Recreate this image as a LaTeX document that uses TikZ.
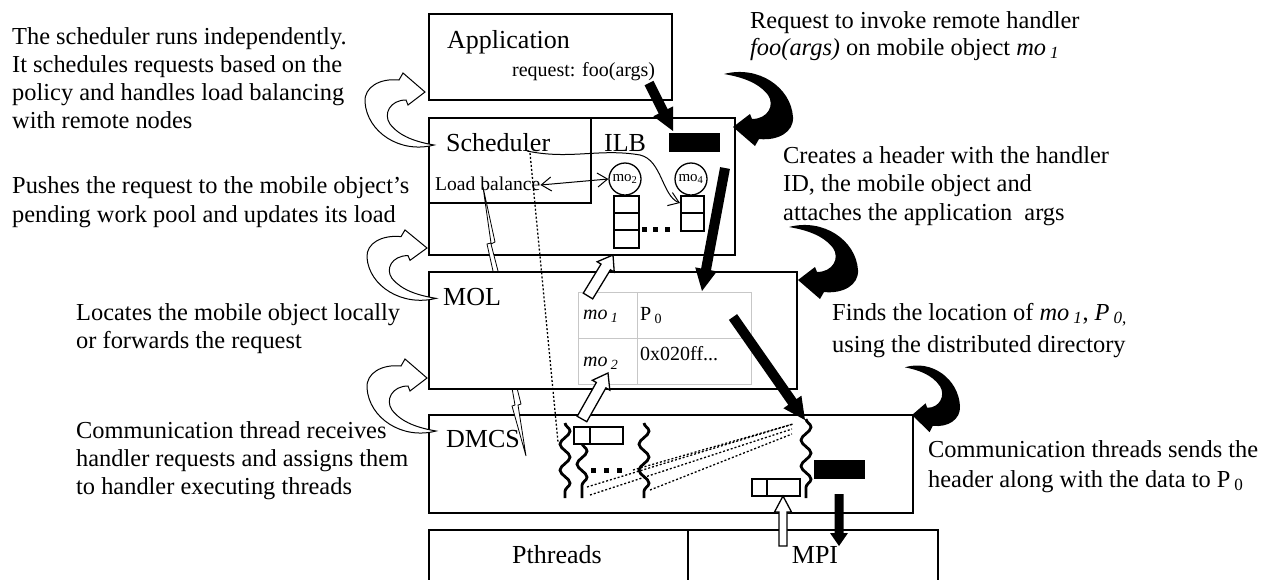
\documentclass[tikz,border=0pt]{standalone}
\usepackage{fontspec}
\setmainfont{Liberation Serif}
\usetikzlibrary{arrows.meta,calc,decorations.pathmorphing}

% block arrow: style, from, to, half shaft width, half head width, head length
\newcommand{\blockarrow}[6]{%
  \coordinate (ba-hb) at ($(#3)!#6!(#2)$);
  \path[#1] ($(#2)!#4!90:(#3)$) -- ($(ba-hb)!#4!-90:(#2)$) -- ($(ba-hb)!#5!-90:(#2)$)
    -- (#3) -- ($(ba-hb)!#5!90:(#2)$) -- ($(ba-hb)!#4!90:(#2)$) -- ($(#2)!#4!-90:(#3)$) -- cycle;
}

\tikzset{
  layer/.style={draw, line width=1.5pt, anchor=north west, inner sep=0pt, fill=white},
  note/.style={anchor=base west, align=left, inner sep=0pt, font=\fontsize{24.4}{28}\selectfont},
  boxlabel/.style={anchor=base west, inner sep=0pt, font=\fontsize{26}{30}\selectfont},
  small/.style={anchor=base west, inner sep=0pt, font=\fontsize{20}{24}\selectfont},
  cell/.style={draw, line width=1.5pt, anchor=north west, inner sep=0pt, fill=white},
  objcircle/.style={draw, circle, line width=1.3pt, minimum size=32pt, inner sep=0pt, font=\fontsize{15}{18}\selectfont},
  thread/.style={line width=2.8pt, decorate, decoration={snake, segment length=26pt, amplitude=5pt}},
  dots/.style={line width=1.3pt, dash pattern=on 2pt off 2pt},
  solidarrow/.style={fill=black},
  hollowarrow/.style={draw, fill=white, line width=1.3pt},
  tablegrid/.style={draw=black!22, line width=1pt},
  crescent/.pic={
    \path[pic actions] (0,0) -- (17,-13) -- (19,-8)
      .. controls (35,-8) and (42,-22) .. (35,-32)
      .. controls (25,-45) and (8,-50) .. (-9,-53)
      .. controls (25,-62) and (58,-40) .. (60,-10)
      .. controls (61,5) and (45,14) .. (26,12) -- (22,19) -- cycle;
  }
}

\begin{document}
\begin{tikzpicture}[x=1pt, y=-1pt]
\useasboundingbox (0,0) rectangle (1270,579);

% ---------- layers ----------
\node[layer, minimum width=243pt, minimum height=86pt] (app) at (428,13) {};
\node[layer, minimum width=306pt, minimum height=137pt] (ilb) at (428,117) {};
\node[layer, minimum width=162pt, minimum height=85pt] (sched) at (428,117) {};
\node[layer, minimum width=484pt, minimum height=98pt] (dmcs) at (428,414) {};
\node[layer, minimum width=259pt, minimum height=70pt] (pthreads) at (428,529) {};
\node[layer, minimum width=250pt, minimum height=70pt] (mpi) at (687,529) {};

% load-balancing path from the scheduler down to the communication layer
\path[draw, fill=white, line width=0.8pt] (483,187) -- (495,242) -- (491,244) -- (498,271)
  -- (517,388) -- (521,404) -- (518,405) -- (526,456) -- (512,406) -- (515,405)
  -- (512,388) -- (493,271) -- (487,244) -- (491,243) -- cycle;

\node[layer, minimum width=368pt, minimum height=117pt] (mol) at (428,271) {};

% ---------- layer titles ----------
\node[boxlabel] (tapp) at (447,48) {Application};
\node[small] (treq) at (512,76) {request: foo(args)};
\node[boxlabel] (tsched) at (446,151) {Scheduler};
\node[boxlabel] (tilb) at (604,151) {ILB};
\node[small, font=\fontsize{19.6}{24}\selectfont] (tlb) at (435,190) {Load balance};
\node[boxlabel] (tmol) at (443,305) {MOL};
\node[boxlabel] (tdmcs) at (446,447) {DMCS};
\node[boxlabel, anchor=base] (tpth) at (557,563) {Pthreads};
\node[boxlabel, anchor=base] (tmpi) at (815,563) {MPI};

% ---------- ILB contents ----------
\node[draw, fill=black, anchor=north west, minimum width=50pt, minimum height=18pt, inner sep=0pt] (hdr) at (669,133) {};
\node[objcircle] (mo2) at (625,179) {mo\textsubscript{2}};
\node[objcircle] (mo4) at (691,179) {mo\textsubscript{4}};
\node[cell, minimum width=25pt, minimum height=52pt] (q2) at (613,195) {};
\draw[line width=1.5pt] (613,213) -- (638,213) (613,230) -- (638,230);
\node[cell, minimum width=23pt, minimum height=35pt] (q4) at (680,195) {};
\draw[line width=1.5pt] (680,213) -- (703,213);
\foreach \x in {644,655,667} \fill (\x-2,227) rectangle +(4.5,4.5);

\draw[line width=1pt, {Straight Barb[length=10pt,width=14pt]}-{Straight Barb[length=10pt,width=14pt]}]
  (tlb.east |- 0,185) -- (mo2.west);
\coordinate (schedout) at (527,151);
\coordinate (q4in) at (680,203);
\draw[line width=1pt, -{Straight Barb[length=10pt,width=14pt]}]
  (schedout) .. controls (570,160) and (600,148) .. (640,155)
  .. controls (662,160) and (662,196) .. (q4in);

% ---------- MOL directory table ----------
\draw[tablegrid] (578,292) rectangle (751,384) (578,338) -- (751,338) (637,292) -- (637,384);
\node[small] (m1) at (583,319) {\textit{mo}\,\textsubscript{\textit{1}}};
\node[small] (p0) at (640,320) {P\,\textsubscript{0}};
\node[small] (m2) at (583,366) {\textit{mo}\,\textsubscript{\textit{2}}};
\node[small] (addr) at (640,360) {0x020ff...};

% ---------- DMCS threads ----------
\draw[thread] (565,423) -- (565,498);
\draw[thread] (582,443) -- (582,498);
\draw[thread] (644,423) -- (644,498);
\draw[thread] (806,419) -- (806,498);
\node[cell, minimum width=49pt, minimum height=17pt] (qin) at (573,426) {};
\draw[line width=1.5pt] (590,426) -- (590,443);
\node[cell, minimum width=48pt, minimum height=17pt] (qout) at (751,478) {};
\draw[line width=1.5pt] (767,478) -- (767,495);
\node[draw, fill=black, anchor=north west, minimum width=50pt, minimum height=18pt, inner sep=0pt] (msg) at (814,460) {};
\foreach \x in {593,606,619} \fill (\x-2,468) rectangle +(4.5,4.5);

\coordinate (ta) at (587,487);
\coordinate (tb) at (590,495);
\coordinate (tc) at (650,490);
\coordinate (td) at (633,470);
\coordinate (ra) at (793,424);
\coordinate (rb) at (792,429);
\coordinate (rc) at (792,434);
\draw[dots] (td) -- (ra);
\draw[dots] (ta) -- (ra);
\draw[dots] (tb) -- (rb);
\draw[dots] (tc) -- (rc);
\coordinate (schedin) at (530,153);
\coordinate (t1top) at (558,442);
\draw[dots] (schedin) -- (t1top);

% ---------- request flow ----------
\coordinate (a1s) at (649,83);   \coordinate (a1e) at (673,131);
\coordinate (a2s) at (725,168);  \coordinate (a2e) at (702,291);
\coordinate (a3s) at (733,317);  \coordinate (a3e) at (805,420);
\coordinate (a4s) at (839,494);  \coordinate (a4e) at (839,546);
\blockarrow{solidarrow}{a1s}{a1e}{5pt}{11pt}{22pt}
\blockarrow{solidarrow}{a2s}{a2e}{5pt}{11pt}{22pt}
\blockarrow{solidarrow}{a3s}{a3e}{5pt}{11pt}{22pt}
\blockarrow{solidarrow}{a4s}{a4e}{4.5pt}{9pt}{13pt}

\coordinate (w1s) at (588,296);  \coordinate (w1e) at (613,255);
\coordinate (w2s) at (582,419);  \coordinate (w2e) at (608,373);
\coordinate (w3s) at (783,546);  \coordinate (w3e) at (783,496);
\blockarrow{hollowarrow}{w1s}{w1e}{5.5pt}{10pt}{14pt}
\blockarrow{hollowarrow}{w2s}{w2e}{5.5pt}{10pt}{14pt}
\blockarrow{hollowarrow}{w3s}{w3e}{4pt}{8.5pt}{16pt}

% ---------- step arrows ----------
\pic[fill=black] at (733,127) {crescent};
\pic[fill=black] at (798,280) {crescent};
\pic[fill=black, xscale=0.8, yscale=0.9] at (912,415) {crescent};
\pic[draw, fill=white, line width=1pt, rotate=180] at (425,92) {crescent};
\pic[draw, fill=white, line width=1pt, rotate=180, yscale=0.95] at (427,248) {crescent};
\pic[draw, fill=white, line width=1pt, rotate=180] at (427,378) {crescent};

% ---------- explanations (anchored at the baseline of the last line) ----------
\node[note] (n1) at (12,128) {The scheduler runs independently.\\It schedules requests based on the\\policy and handles load balancing\\with remote nodes};
\node[note, font=\fontsize{24.4}{29}\selectfont] (n2) at (12,222) {Pushes the request to the mobile object’s\\pending work pool and updates its load};
\node[note] (n3) at (76,348) {Locates the mobile object locally\\or forwards the request};
\node[note] (n4) at (76,494) {Communication thread receives\\handler requests and assigns them\\to handler executing threads};
\node[note, font=\fontsize{24.4}{27}\selectfont] (n5) at (750,55) {Request to invoke remote handler\\\textit{foo(args)} on mobile object \textit{mo}\,\textsubscript{\textit{1}}};
\node[note, font=\fontsize{24.4}{28.5}\selectfont] (n6) at (783,220) {Creates a header with the handler\\ID, the mobile object and\\attaches the application\ \ args};
\node[note, font=\fontsize{24.4}{32}\selectfont] (n7) at (832,352) {Finds the location of \textit{mo}\,\textsubscript{\textit{1}}, \textit{P}\,\textsubscript{\textit{0},}\\using the distributed directory};
\node[note, font=\fontsize{24.4}{30}\selectfont] (n8) at (928,487) {Communication threads sends the\\header along with the data to P\,\textsubscript{0}};
\end{tikzpicture}
\end{document}
